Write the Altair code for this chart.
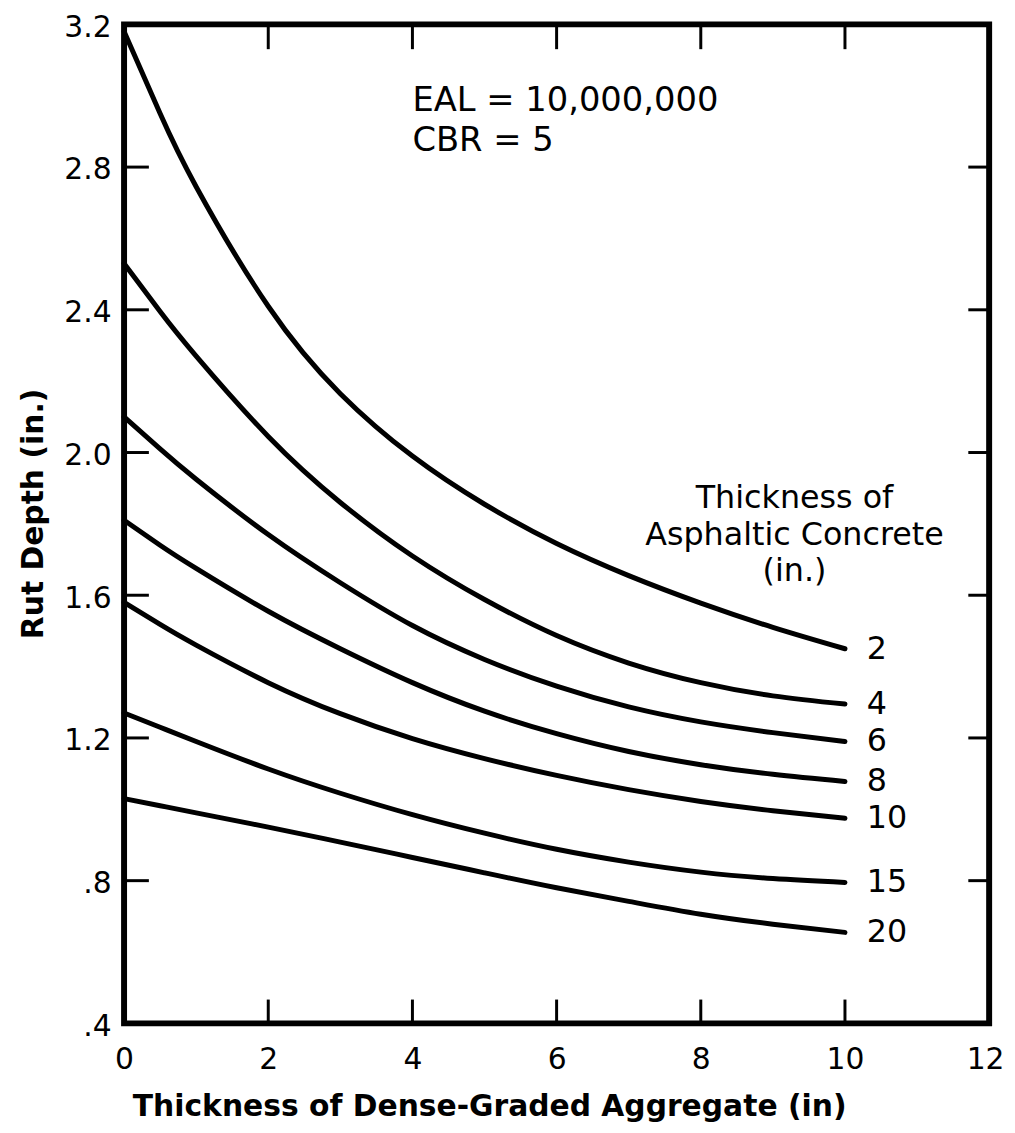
import altair as alt
import pandas as pd

# --- data ---
x_pts = [0, 0.5, 1, 2, 3, 4, 5, 6, 7, 8, 9, 10]
series = ["2", "4", "6", "8", "10", "15", "20"]
rut_2 = [3.18, 2.95, 2.745, 2.41, 2.165, 1.99, 1.855, 1.745, 1.655, 1.578, 1.51, 1.45]
rut_4 = [2.53, 2.395, 2.27, 2.045, 1.86, 1.71, 1.588, 1.487, 1.41, 1.355, 1.318, 1.295]
rut_6 = [2.10, 2.01, 1.925, 1.77, 1.635, 1.515, 1.42, 1.345, 1.287, 1.245, 1.215, 1.19]
rut_8 = [1.81, 1.74, 1.675, 1.555, 1.45, 1.355, 1.275, 1.212, 1.162, 1.125, 1.098, 1.078]
rut_10 = [1.58, 1.518, 1.46, 1.355, 1.268, 1.198, 1.142, 1.095, 1.055, 1.022, 0.996, 0.975]
rut_15 = [1.27, 1.23, 1.19, 1.113, 1.045, 0.985, 0.933, 0.888, 0.852, 0.824, 0.806, 0.795]
rut_20 = [1.03, 1.01, 0.99, 0.95, 0.908, 0.865, 0.822, 0.78, 0.742, 0.706, 0.678, 0.655]
all_series = [rut_2, rut_4, rut_6, rut_8, rut_10, rut_15, rut_20]

x_ticks = [0, 2, 4, 6, 8, 10, 12]
y_ticks = [0.4, 0.8, 1.2, 1.6, 2.0, 2.4, 2.8, 3.2]
x_inner_ticks = [2, 4, 6, 8, 10]
y_inner_ticks = [0.8, 1.2, 1.6, 2.0, 2.4, 2.8]

rows = []
for name, vals in zip(series, all_series):
    for xv, yv in zip(x_pts, vals):
        rows.append({"agg": xv, "rut": yv, "ac": name})
df = pd.DataFrame(rows)
ends = pd.DataFrame({"ac": series, "agg": [x_pts[-1]] * len(series),
                     "rut": [s[-1] for s in all_series]})
xt = pd.DataFrame({"v": x_inner_ticks})
yt = pd.DataFrame({"v": y_inner_ticks})

W, H = 872, 1007
FONT = "DejaVu Sans"

xscale = alt.Scale(domain=[0, 12], nice=False, zero=False)
yscale = alt.Scale(domain=[0.4, 3.2], nice=False, zero=False)

x_axis = alt.Axis(
    values=x_ticks, ticks=False, domain=False, grid=False, format="d",
    labelFont=FONT, labelFontSize=30, labelColor="black",
    labelPadding=45, labelBaseline="alphabetic", labelFlush=False, labelOverlap=False,
    labelAlign={"condition": {"test": "datum.value == 12", "value": "right"}, "value": "center"},
    labelOffset={"condition": {"test": "datum.value == 12", "value": 15}, "value": 0},
    title="Thickness of Dense-Graded Aggregate (in)",
    titleFont=FONT, titleFontSize=30, titleFontWeight="bold", titleColor="black",
    titleX=368, titleY=93, titleAlign="center", titleBaseline="alphabetic",
)
y_axis = alt.Axis(
    values=y_ticks, ticks=False, domain=False, grid=False,
    labelFont=FONT, labelFontSize=30, labelColor="black",
    labelPadding=13, labelFlush=False, labelOverlap=False, labelOffset=3,
    labelExpr="datum.value < 1 ? substring(format(datum.value, '.1f'), 1) : format(datum.value, '.1f')",
    title="Rut Depth (in.)",
    titleFont=FONT, titleFontSize=30, titleFontWeight="bold", titleColor="black",
    titleX=-82, titleY=493, titleAngle=270, titleAlign="center", titleBaseline="alphabetic",
)

lines = alt.Chart(df).mark_line(
    color="black", strokeWidth=5, interpolate="natural", strokeCap="round"
).encode(
    x=alt.X("agg:Q", scale=xscale, axis=x_axis),
    y=alt.Y("rut:Q", scale=yscale, axis=y_axis),
    detail="ac:N",
)

end_labels = alt.Chart(ends).mark_text(
    align="left", baseline="middle", dx=22, font=FONT, fontSize=32, color="black"
).encode(
    x=alt.X("agg:Q", scale=xscale),
    y=alt.Y("rut:Q", scale=yscale),
    text="ac:N",
)

tick_style = dict(color="black", strokeWidth=3)
bottom_ticks = alt.Chart(xt).mark_rule(**tick_style).encode(
    x=alt.X("v:Q", scale=xscale), y=alt.value(H), y2=alt.value(H - 24))
top_ticks = alt.Chart(xt).mark_rule(**tick_style).encode(
    x=alt.X("v:Q", scale=xscale), y=alt.value(0), y2=alt.value(25))
left_ticks = alt.Chart(yt).mark_rule(**tick_style).encode(
    y=alt.Y("v:Q", scale=yscale), x=alt.value(0), x2=alt.value(25))
right_ticks = alt.Chart(yt).mark_rule(**tick_style).encode(
    y=alt.Y("v:Q", scale=yscale), x=alt.value(W), x2=alt.value(W - 21))

note1 = alt.Chart(pd.DataFrame({"a": [0]})).mark_text(
    align="left", baseline="alphabetic", font=FONT, fontSize=34, color="black",
    text=["EAL = 10,000,000", "CBR = 5"], lineHeight=41,
).encode(x=alt.datum(4.0, scale=xscale), y=alt.datum(2.958, scale=yscale))

note2 = alt.Chart(pd.DataFrame({"a": [0]})).mark_text(
    align="center", baseline="alphabetic", font=FONT, fontSize=32, color="black",
    text=["Thickness of", "Asphaltic Concrete", "(in.)"], lineHeight=37,
).encode(x=alt.datum(9.3, scale=xscale), y=alt.datum(1.845, scale=yscale))

chart = alt.layer(
    lines, end_labels, bottom_ticks, top_ticks, left_ticks, right_ticks, note1, note2
).properties(
    width=W, height=H,
    autosize=alt.AutoSizeParams(type="none"),
    padding={"left": 117, "top": 12, "right": 18, "bottom": 106},
    background="white",
).configure_view(
    stroke="black", strokeWidth=6
)

chart.save("out.html", embed_options={"renderer": "svg", "actions": False})
